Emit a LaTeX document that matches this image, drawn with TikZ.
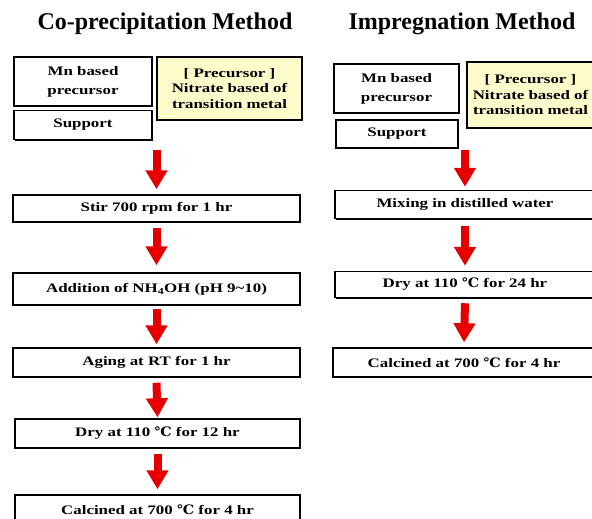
\documentclass[tikz,border=0pt]{standalone}
\usepackage{fontspec}
\setmainfont{Liberation Serif}
\newfontfamily\degfont[FakeStretch=1.1]{DejaVu Serif}
\newcommand{\degC}{{\degfont\bfseries\char"2103}}
\usetikzlibrary{positioning,shadows}
\usetikzlibrary{arrows.meta}

\begin{document}
\begin{tikzpicture}[x=1pt, y=-1pt, thick,
  box/.style = {rectangle, draw=black, line width=1.5pt, fill=white,
    font = \fontsize{13}{15}\selectfont\addfontfeature{FakeStretch=1.3}\bfseries, align = center,
    inner sep=1pt,
    drop shadow={shadow xshift=1.2pt, shadow yshift=-1.2pt, fill=black, opacity=1}},
  mnbox/.style = {box, font = \fontsize{13}{19}\selectfont\addfontfeature{FakeStretch=1.3}\bfseries},
  precbox/.style = {box, fill=yellow!20, font = \fontsize{13}{15.5}\selectfont\addfontfeature{FakeStretch=1.3}\bfseries},
  title/.style = {font = \fontsize{24}{28}\selectfont\bfseries},
  flow/.style = {draw=red!90!black, line width=8pt,
    -{Triangle[width=21pt, length=19pt, fill=red]}}]
  \useasboundingbox (0,0) rectangle (592,519);

  % co-precipitation
  \node[title] (titleL) at (165,24) {Co-precipitation Method};
  \node[mnbox, minimum width=138pt, minimum height=49pt] (mnL) at (83,81.5) {Mn based\\precursor};
  \node[box, minimum width=138pt, minimum height=29pt] (supL) at (83,125) {Support};
  \node[precbox, minimum width=145pt, minimum height=63pt] (preL) at (229.5,88.5)
    {[ Precursor ]\\Nitrate based of\\transition metal};
  \node[box, minimum width=287pt, minimum height=27pt] (stirL) at (156.5,208.5) {Stir 700 rpm for 1 hr};
  \node[box, minimum width=287pt, minimum height=32pt] (addL) at (156.5,289) {Addition of NH\textsubscript{4}OH (pH 9\textasciitilde 10)};
  \node[box, minimum width=287pt, minimum height=29pt] (ageL) at (156.5,362.5) {Aging at RT for 1 hr};
  \node[box, minimum width=285pt, minimum height=29pt] (dryL) at (157.5,433.5) {Dry at 110 \degC\ for 12 hr};
  \node[box, minimum width=285pt, minimum height=30pt] (calL) at (157.5,510) {Calcined at 700 \degC\ for 4 hr};

  \coordinate (startL) at (156.5,150);
  \draw[flow] (startL) -- ([yshift=5pt]stirL.north);
  \draw[flow] ([yshift=-5pt]stirL.south) -- ([yshift=7pt]addL.north);
  \draw[flow] ([yshift=-3pt]addL.south) -- ([yshift=3pt]ageL.north);
  \draw[flow] ([yshift=-5pt]ageL.south) -- ([yshift=1pt]dryL.north);
  \draw[flow] ([yshift=-5pt]dryL.south) -- ([yshift=5pt]calL.north);

  % impregnation
  \node[title] (titleR) at (462,24) {Impregnation Method};
  \node[mnbox, minimum width=125pt, minimum height=49pt] (mnR) at (396.5,88.5) {Mn based\\precursor};
  \node[box, minimum width=122pt, minimum height=28pt] (supR) at (397,134) {Support};
  \node[precbox, minimum width=127pt, minimum height=66pt] (preR) at (530.5,95)
    {[ Precursor ]\\Nitrate based of\\transition metal};
  \node[box, minimum width=260pt, minimum height=28pt] (mixR) at (465,204.5) {Mixing in distilled water};
  \node[box, minimum width=260pt, minimum height=26pt] (dryR) at (465,284.5) {Dry at 110 \degC\ for 24 hr};
  \node[box, minimum width=262pt, minimum height=29pt] (calR) at (464,362.5) {Calcined at 700 \degC\ for 4 hr};

  \coordinate (startR) at (465,150);
  \draw[flow] (startR) -- ([yshift=3pt]mixR.north);
  \draw[flow] ([yshift=-7pt]mixR.south) -- ([yshift=5pt]dryR.north);
  \draw[flow] ([yshift=-5pt]dryR.south) -- ([yshift=5pt]calR.north);
\end{tikzpicture}
\end{document}
